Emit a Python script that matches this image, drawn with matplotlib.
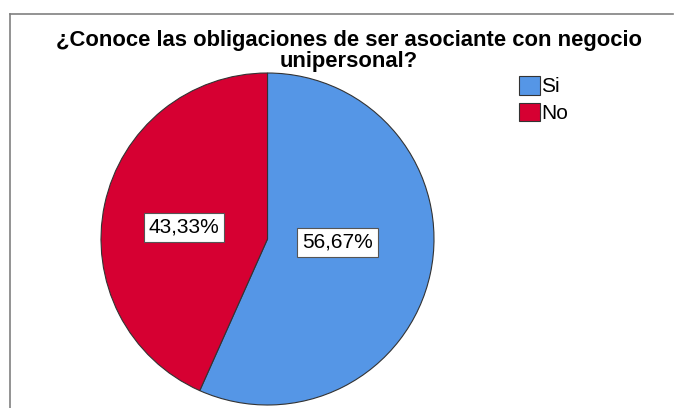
import matplotlib.pyplot as plt
from matplotlib.lines import Line2D

plt.rcParams['font.family'] = ['Liberation Sans', 'DejaVu Sans']

# ── Data ───────────────────────────────────────────────────────────────────────
categories = ["Si", "No"]
values     = [56.67, 43.33]
colors     = ["#5596E6", "#D60032"]
title      = "¿Conoce las obligaciones de ser asociante con negocio\nunipersonal?"

W, H = 675, 408
fig = plt.figure(figsize=(W / 100, H / 100), dpi=100)

# Outer frame (top + left edges only, as in the source)
fig.add_artist(Line2D([10 / W, 673 / W], [1 - 14 / H, 1 - 14 / H],
                      color="#808080", lw=1.2, transform=fig.transFigure))
fig.add_artist(Line2D([10 / W, 10 / W], [0, 1 - 14 / H],
                      color="#808080", lw=1.2, transform=fig.transFigure))

# Pie axes: pixel box x 101..434, y 73..405
left, right, top, bottom = 101, 434, 73, 405
ax = fig.add_axes([left / W, 1 - bottom / H, (right - left) / W, (bottom - top) / H])

wedges, texts, autotexts = ax.pie(
    values, colors=colors, startangle=90, counterclock=False,
    autopct=lambda p: f"{p:.2f}%".replace(".", ","), pctdistance=0.43,
    wedgeprops=dict(edgecolor="#333333", linewidth=0.8),
    textprops=dict(fontsize=15),
)
ax.set_aspect("auto")
ax.set_xlim(-1, 1)
ax.set_ylim(-1, 1)

for t in autotexts:
    t.set_bbox(dict(facecolor="white", edgecolor="#555555", linewidth=0.8, pad=3.5))
autotexts[0].set_position((0.42, -0.02))
autotexts[1].set_position((-0.50, 0.07))

fig.text(349 / W, 1 - 51 / H, title, ha="center", va="center",
         fontsize=15.8, fontweight="bold", linespacing=0.95)

fig.legend(wedges, categories, loc="upper left", bbox_to_anchor=(519 / W, 1 - 76 / H),
           frameon=False, fontsize=15, handlelength=1.0, handleheight=1.0,
           handletextpad=0.08, labelspacing=0.3, borderpad=0, borderaxespad=0)

fig.savefig("out.png", dpi=100)
